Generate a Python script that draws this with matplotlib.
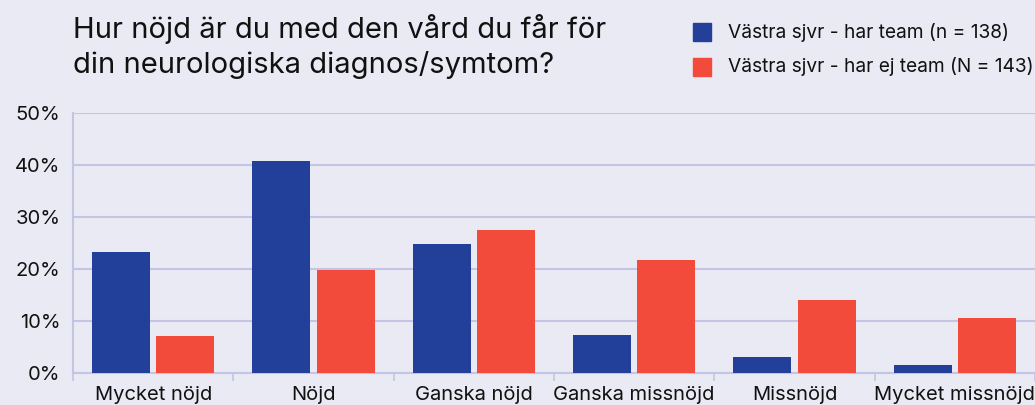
import numpy as np
import matplotlib
matplotlib.use("Agg")
import matplotlib.pyplot as plt
from matplotlib.ticker import FixedLocator, PercentFormatter

categories = ["Mycket nöjd", "Nöjd", "Ganska nöjd", "Ganska missnöjd", "Missnöjd", "Mycket missnöjd"]
har_team = [23.3, 40.8, 24.8, 7.3, 3.1, 1.5]
ej_team = [7.1, 19.8, 27.5, 21.7, 14.0, 10.6]
series_labels = ["Västra sjvr - har team (n = 138)", "Västra sjvr - har ej team (N = 143)"]
title = "Hur nöjd är du med den vård du får för\ndin neurologiska diagnos/symtom?"

bg = "#EAEAF4"
grid_col = "#C4C4E4"
blue = "#22409A"
red = "#F24A3B"

plt.rcParams["font.family"] = ["Inter", "DejaVu Sans"]

fig = plt.figure(figsize=(10.35, 4.05), dpi=100, facecolor=bg)
ax = fig.add_axes([73 / 1035, 32 / 405, 962 / 1035, 260 / 405], facecolor=bg)

x = np.arange(len(categories))
w = 0.362
ax.bar(x - 0.2, har_team, w, color=blue, zorder=3)
ax.bar(x + 0.2, ej_team, w, color=red, zorder=3)

ax.set_xlim(-0.5, len(categories) - 0.5)
ax.set_ylim(0, 50)
ax.set_yticks(range(0, 51, 10))
ax.yaxis.set_major_formatter(PercentFormatter(decimals=0))
ax.grid(axis="y", color=grid_col, lw=1.5, zorder=0)
ax.set_axisbelow(True)

ax.set_xticks(x)
ax.set_xticklabels(categories)
ax.xaxis.set_minor_locator(FixedLocator(np.arange(-0.5, len(categories), 1)))
ax.tick_params(axis="x", which="major", length=0, labelsize=14.5, pad=9, colors="#111111")
ax.tick_params(axis="x", which="minor", length=6, width=1.2, color=grid_col)
ax.tick_params(axis="y", length=0, labelsize=14.5, pad=9, labelcolor="#111111")

for side in ["top", "right"]:
    ax.spines[side].set_visible(False)
for side in ["left", "bottom"]:
    ax.spines[side].set_color(grid_col)
    ax.spines[side].set_linewidth(1.5)

fig.text(73 / 1035, 1 - 14 / 405, title, fontsize=21, va="top", ha="left",
         color="#111111", linespacing=1.3)

ys = [32, 67]
cols = [blue, red]
for lab, col, yy in zip(series_labels, cols, ys):
    fig.patches.append(plt.Rectangle((693 / 1035, 1 - (yy + 9) / 405), 18 / 1035, 18 / 405,
                                     transform=fig.transFigure, color=col, figure=fig))
    fig.text(728 / 1035, 1 - yy / 405, lab, fontsize=13.8, va="center", ha="left", color="#111111")

fig.savefig("out.png", dpi=100, facecolor=bg)
